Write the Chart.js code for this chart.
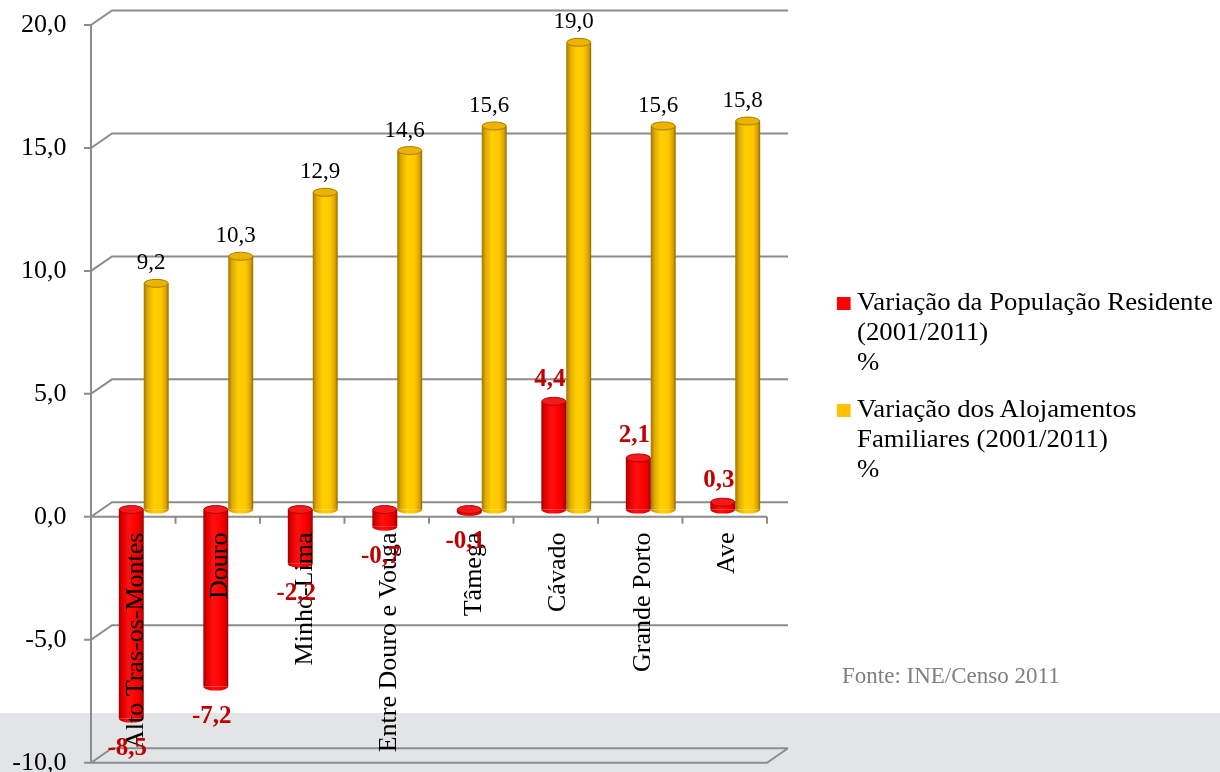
<!DOCTYPE html>
<html lang="pt">
<head>
<meta charset="utf-8">
<title>Variação da População e dos Alojamentos (2001/2011)</title>
<script src="https://cdn.jsdelivr.net/npm/chart.js@4.4.1/dist/chart.umd.min.js"></script>
<style>
  html, body { margin: 0; padding: 0; background: #fff; }
  #wrap { position: relative; width: 1220px; height: 772px; overflow: hidden;
          font-family: "Liberation Serif", "Times New Roman", serif; }
  #band { position: absolute; left: 0; top: 713px; width: 1220px; height: 59px; background: #e3e4e6; }
  #graph { position: absolute; left: 0; top: 0; }
  .legenda { position: absolute; left: 857px; font-size: 25px; line-height: 30px; color: #000; white-space: nowrap;
             transform: scaleX(1.07); transform-origin: 0 0; }
  .legenda .sq { position: absolute; left: -19px; top: 10px; width: 13px; height: 13px; }
  #fonte { position: absolute; left: 842px; top: 664px; font-size: 23px; line-height: 23px; color: #808080; }
</style>
</head>
<body>
<div id="wrap">
  <div id="band"></div>
  <canvas id="graph" width="1220" height="772"></canvas>
  <div id="legend"></div>
  <div id="fonte">Fonte: INE/Censo 2011</div>
</div>
<script>
// dados
const categorias = ['Alto Tras-os-Montes', 'Douro', 'Minho-Lima', 'Entre Douro e Vouga', 'Tâmega', 'Cávado', 'Grande Porto', 'Ave'];
const variacaoPopulacao = [-8.5, -7.2, -2.2, -0.7, -0.1, 4.4, 2.1, 0.3];
const variacaoAlojamentos = [9.2, 10.3, 12.9, 14.6, 15.6, 19.0, 15.6, 15.8];
const legendaLinhas = [
  ['Variação da População Residente', '(2001/2011)', '%'],
  ['Variação dos Alojamentos', 'Familiares (2001/2011)', '%']
];
const yMin = -10, yMax = 20, yPasso = 5;

const serif = '"Liberation Serif", "Times New Roman", serif';
const coresSerie = ['#ff0000', '#ffc000'];

// meia profundidade do efeito 3D (plano frontal = -DX,+DY ; fundo = +DX,-DY)
const DX = 10.5, DY = 7.25;

const paletas = [
  { corpo: [[0, '#a80000'], [0.15, '#e00000'], [0.4, '#ff1010'], [0.7, '#ff0000'], [0.9, '#d80000'], [1, '#980000']],
    tampa: '#f21a1a', borda: '#b80000' },
  { corpo: [[0, '#a07400'], [0.15, '#e0a800'], [0.4, '#ffd000'], [0.7, '#ffc800'], [0.9, '#d8a000'], [1, '#8c6600']],
    tampa: '#ecb400', borda: '#a87c00' }
];

function fmt(v) { return v.toFixed(1).replace('.', ','); }

// grelha 3D: paredes, eixos e chão
const frame3d = {
  id: 'frame3d',
  beforeDatasetsDraw(chart) {
    const { ctx, scales: { x, y } } = chart;
    const fx0 = x.left - DX, fx1 = x.right - DX;
    const bx0 = x.left + DX, bx1 = x.right + DX;
    ctx.save();
    ctx.strokeStyle = '#8c8c8c';
    ctx.lineWidth = 2;
    ctx.beginPath();
    y.ticks.forEach(t => {
      const fy = y.getPixelForValue(t.value) + DY;
      const by = fy - 2 * DY;
      ctx.moveTo(fx0 - 7, fy);
      ctx.lineTo(fx0, fy);
      ctx.lineTo(bx0, by);
      ctx.lineTo(bx1, by);
    });
    ctx.moveTo(fx0, y.getPixelForValue(yMax) + DY);
    ctx.lineTo(fx0, y.getPixelForValue(yMin) + DY);
    const f0 = y.getPixelForValue(0) + DY;
    ctx.moveTo(fx0, f0);
    ctx.lineTo(fx1, f0);
    for (let k = 0; k <= categorias.length; k++) {
      const px = x.getPixelForValue(k - 0.5) - DX;
      ctx.moveTo(px, f0);
      ctx.lineTo(px, f0 + 7);
    }
    const fb = y.getPixelForValue(yMin) + DY;
    ctx.moveTo(fx0, fb);
    ctx.lineTo(fx1, fb);
    ctx.lineTo(bx1, fb - 2 * DY);
    ctx.stroke();
    ctx.restore();
  }
};

// cilindros
const cilindros = {
  id: 'cilindros',
  beforeDatasetDraw(chart, args) {
    const p = paletas[args.index];
    args.meta.data.forEach(bar => {
      const g = chart.ctx.createLinearGradient(bar.x - bar.width / 2, 0, bar.x + bar.width / 2, 0);
      p.corpo.forEach(s => g.addColorStop(s[0], s[1]));
      bar.options.backgroundColor = g;
    });
  },
  afterDatasetDraw(chart, args) {
    const ctx = chart.ctx;
    const p = paletas[args.index];
    ctx.save();
    args.meta.data.forEach(bar => {
      const top = Math.min(bar.y, bar.base), bot = Math.max(bar.y, bar.base);
      const rx = bar.width / 2, ry = 4;
      ctx.fillStyle = bar.options.backgroundColor;
      ctx.beginPath();
      ctx.ellipse(bar.x, bot, rx, ry, 0, 0, Math.PI);
      ctx.fill();
      ctx.fillStyle = p.tampa;
      ctx.strokeStyle = p.borda;
      ctx.lineWidth = 1;
      ctx.beginPath();
      ctx.ellipse(bar.x, top, rx - 0.5, ry, 0, 0, 2 * Math.PI);
      ctx.fill();
      ctx.stroke();
    });
    ctx.restore();
  }
};

// rótulos de valores
const rotulos = {
  id: 'rotulos',
  afterDraw(chart) {
    const ctx = chart.ctx;
    ctx.save();
    ctx.textAlign = 'center';
    ctx.textBaseline = 'middle';
    chart.data.datasets.forEach((ds, di) => {
      chart.getDatasetMeta(di).data.forEach((bar, i) => {
        const v = ds.data[i];
        if (di === 0) {
          ctx.font = 'bold 25px ' + serif;
          ctx.fillStyle = '#c00000';
          ctx.fillText(fmt(v), bar.x - 4, v >= 0 ? bar.y - 22 : bar.y + 30);
        } else {
          ctx.font = '23px ' + serif;
          ctx.fillStyle = '#000';
          ctx.fillText(fmt(v), bar.x - 5, bar.y - 20);
        }
      });
    });
    ctx.restore();
  }
};

new Chart('graph', {
  type: 'bar',
  data: {
    labels: categorias,
    datasets: [{
      label: legendaLinhas[0].join(' '),
      data: variacaoPopulacao,
      backgroundColor: () => coresSerie[0],
      borderWidth: 0
    }, {
      label: legendaLinhas[1].join(' '),
      data: variacaoAlojamentos,
      backgroundColor: () => coresSerie[1],
      borderWidth: 0
    }]
  },
  options: {
    responsive: false,
    animation: false,
    events: [],
    barPercentage: 1,
    categoryPercentage: 0.59,
    layout: { padding: { left: 0, right: 442.5, top: 17.75, bottom: 16.55 } },
    plugins: { legend: { display: false }, tooltip: { enabled: false } },
    scales: {
      x: {
        position: { y: 0 },
        grid: { display: false, drawTicks: false },
        border: { display: false },
        ticks: {
          z: 1,
          minRotation: 90, maxRotation: 90, autoSkip: false,
          padding: 23, labelOffset: -8, color: '#000',
          font: { family: serif, size: 26, lineHeight: 1.2 }
        }
      },
      y: {
        min: yMin, max: yMax,
        grid: { display: false, drawTicks: false },
        border: { display: false },
        afterFit(s) { s.width = 101.5; s.paddingTop = 0; s.paddingBottom = 0; },
        ticks: {
          stepSize: yPasso, padding: 35, labelOffset: DY, color: '#000',
          font: { family: serif, size: 26 },
          callback: v => fmt(v)
        }
      }
    }
  },
  plugins: [frame3d, cilindros, rotulos]
});

// legenda
const legendTops = [286.6, 393.6];
document.getElementById('legend').innerHTML = legendaLinhas.map((linhas, i) =>
  '<div class="legenda" style="top:' + legendTops[i] + 'px"><span class="sq" style="background:' + coresSerie[i] + '"></span>' +
  linhas.join('<br>') + '</div>').join('');
</script>
</body>
</html>
